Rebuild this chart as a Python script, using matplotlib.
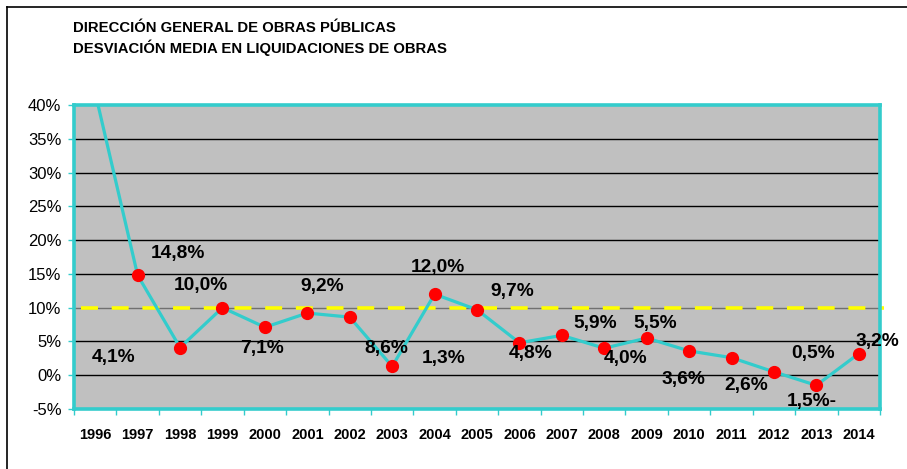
import matplotlib.pyplot as plt
from matplotlib.lines import Line2D

plt.rcParams['font.family'] = ['Liberation Sans', 'DejaVu Sans']

years = ['1996', '1997', '1998', '1999', '2000', '2001', '2002', '2003', '2004', '2005',
         '2006', '2007', '2008', '2009', '2010', '2011', '2012', '2013', '2014']
desviacion = [41.8, 14.8, 4.1, 10.0, 7.1, 9.2, 8.6, 1.3, 12.0, 9.7,
              4.8, 5.9, 4.0, 5.5, 3.6, 2.6, 0.5, -1.5, 3.2]
etiquetas = ['', '14,8%', '4,1%', '10,0%', '7,1%', '9,2%', '8,6%', '1,3%', '12,0%', '9,7%',
             '4,8%', '5,9%', '4,0%', '5,5%', '3,6%', '2,6%', '0,5%', '1,5%-', '3,2%']
referencia = 10.0
yticks = [-5, 0, 5, 10, 15, 20, 25, 30, 35, 40]

# desplazamiento de las etiquetas en pixeles (dx, dy)
offsets = [(0, 0), (40, 22), (-66, -10), (-22, 22), (-3, -21), (15, 27), (37, -31), (51, 8),
           (3, 27), (35, 18), (11, -11), (33, 12), (21, -10), (8, 15), (-6, -29), (15, -28),
           (39, 18), (-5, -16), (19, 12)]

cyan = '#33CCCC'
fig = plt.figure(figsize=(9.07, 4.69), dpi=100)
ax = fig.add_axes([74 / 907, 1 - 409 / 469, 806 / 907, 304 / 469])
ax.set_facecolor('#C0C0C0')

x = list(range(len(years)))
ax.set_xlim(-0.5, len(years) - 0.5)
ax.set_ylim(-5, 40)

for v in yticks[1:-1]:
    ax.axhline(v, color='#707070' if v == referencia else 'black', lw=1, zorder=1)

ax.axhline(referencia, xmin=0.009, xmax=1.005, color='#FFFF00', lw=2.6,
           dashes=(4.7, 3.8), zorder=2, clip_on=False)

ax.plot(x, desviacion, color=cyan, lw=2.3, zorder=3)
ax.plot(x[1:], desviacion[1:], 'o', color='#FF0000', ms=8.5, zorder=4)

pt = 72 / 100
for i in x:
    if etiquetas[i]:
        dx, dy = offsets[i]
        ax.annotate(etiquetas[i], (i, desviacion[i]), xytext=(dx * pt, dy * pt),
                    textcoords='offset points', ha='center', va='center',
                    fontsize=13.8, fontweight='bold', zorder=5, annotation_clip=False)

for s in ax.spines.values():
    s.set_color(cyan)
    s.set_linewidth(2.6)

ax.set_yticks(yticks)
ax.set_yticklabels([f'{v}%' for v in yticks], fontsize=12)
ax.set_xticks([i - 0.5 for i in x] + [len(years) - 0.5])
ax.set_xticklabels([])
ax.set_xticks(x, minor=True)
ax.set_xticklabels(years, minor=True, fontsize=10.5, fontweight='bold')
ax.tick_params(axis='x', which='minor', length=0, pad=14)
ax.tick_params(axis='both', which='major', color=cyan, length=4, width=1)
ax.tick_params(axis='y', pad=5)

fig.text(73 / 907, 1 - 28 / 469, 'DIRECCIÓN GENERAL DE OBRAS PÚBLICAS', fontsize=10.7,
         fontweight='bold', va='center')
fig.text(73 / 907, 1 - 48 / 469, 'DESVIACIÓN MEDIA EN LIQUIDACIONES DE OBRAS', fontsize=10.7,
         fontweight='bold', va='center')

# marco exterior
fig.add_artist(Line2D([7 / 907, 7 / 907], [0, 1 - 7 / 469], color='black', lw=1.2))
fig.add_artist(Line2D([7 / 907, 1], [1 - 7 / 469, 1 - 7 / 469], color='black', lw=1.2))

fig.savefig('out.png', dpi=100)
